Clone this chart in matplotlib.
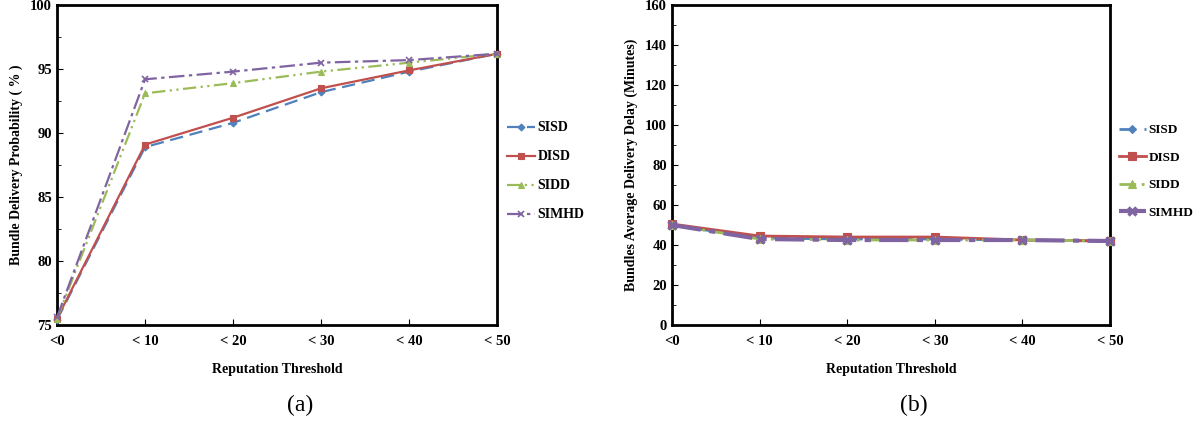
import matplotlib
matplotlib.use("Agg")
import matplotlib.pyplot as plt
from matplotlib.ticker import MultipleLocator

plt.rcParams['font.family'] = ['Liberation Serif', 'DejaVu Serif']

categories = ["<0", "< 10", "< 20", "< 30", "< 40", "< 50"]
series = ["SISD", "DISD", "SIDD", "SIMHD"]

prob_sisd = [75.4, 88.9, 90.8, 93.2, 94.8, 96.2]
prob_disd = [75.5, 89.1, 91.2, 93.5, 94.9, 96.2]
prob_sidd = [75.5, 93.1, 93.9, 94.8, 95.5, 96.2]
prob_simhd = [75.6, 94.2, 94.8, 95.5, 95.7, 96.2]

delay_sisd = [50.0, 43.5, 43.0, 43.0, 42.5, 42.0]
delay_disd = [50.5, 44.5, 44.0, 44.0, 42.5, 42.0]
delay_sidd = [50.0, 43.0, 42.5, 42.5, 42.5, 42.0]
delay_simhd = [50.0, 43.0, 42.5, 42.5, 42.5, 42.0]

colors = ["#4F81BD", "#C0504D", "#9BBB59", "#8064A2"]
markers = ["D", "s", "^", "x"]
styles = [(0, (6, 3)), "-", (0, (6, 2, 1, 2, 1, 2)), (0, (7, 2, 1.5, 2))]

fig = plt.figure(figsize=(12, 4.21), dpi=100)
ax1 = fig.add_axes([0.0475, 0.228, 0.367, 0.76])
ax2 = fig.add_axes([0.560, 0.228, 0.365, 0.76])

x = list(range(len(categories)))

def style_axes(ax, ylabel, label):
    ax.set_xlim(0, len(categories) - 1)
    ax.set_xticks(x)
    ax.set_xticklabels(categories, fontsize=10.5, fontweight='bold')
    ax.tick_params(axis='x', direction='in', length=4, pad=7)
    ax.tick_params(axis='y', which='both', direction='in', labelsize=10.5)
    ax.tick_params(axis='y', which='major', length=4)
    ax.tick_params(axis='y', which='minor', length=3)
    for t in ax.get_yticklabels():
        t.set_fontweight('bold')
    for s in ax.spines.values():
        s.set_linewidth(2)
    ax.set_ylabel(ylabel, fontsize=10, fontweight='bold', labelpad=5)
    ax.set_xlabel("Reputation Threshold", fontsize=10, fontweight='bold', labelpad=11)
    ax.text(0.553, -0.25, label, transform=ax.transAxes, ha='center', va='center', fontsize=17)

def add_legend(ax, size):
    ax.legend(loc='center left', bbox_to_anchor=(1.0, 0.48), frameon=False,
              prop={'weight': 'bold', 'size': size}, handlelength=2.0, handletextpad=0.2,
              labelspacing=1.15, borderaxespad=0.3)

# (a)
data_a = [prob_sisd, prob_disd, prob_sidd, prob_simhd]
for name, ys, c, m, ls in zip(series, data_a, colors, markers, styles):
    ax1.plot(x, ys, color=c, linestyle=ls, linewidth=1.6, marker=m,
             markersize=5 if m != "D" else 3.5, markeredgewidth=1.2 if m == "x" else 0.8,
             label=name, clip_on=False, zorder=3)
ax1.set_ylim(75, 100)
ax1.yaxis.set_major_locator(MultipleLocator(5))
ax1.yaxis.set_minor_locator(MultipleLocator(2.5))
style_axes(ax1, "Bundle Delivery Probability ( % )", "(a)")
add_legend(ax1, 10)

# (b)
data_b = [delay_sisd, delay_disd, delay_sidd, delay_simhd]
widths = [2.0, 2.0, 2.0, 3.0]
for name, ys, c, m, ls, w in zip(series, data_b, colors, markers, styles, widths):
    ax2.plot(x, ys, color=c, linestyle=ls, linewidth=w, marker=m,
             markersize=6 if m != "D" else 4, markeredgewidth=2.5 if m == "x" else 0.8,
             label=name, clip_on=False, zorder=3)
ax2.set_ylim(0, 160)
ax2.yaxis.set_major_locator(MultipleLocator(20))
ax2.yaxis.set_minor_locator(MultipleLocator(10))
style_axes(ax2, "Bundles Average Delivery Delay (Minutes)", "(b)")
add_legend(ax2, 9.5)

fig.savefig("out.png", dpi=100)
